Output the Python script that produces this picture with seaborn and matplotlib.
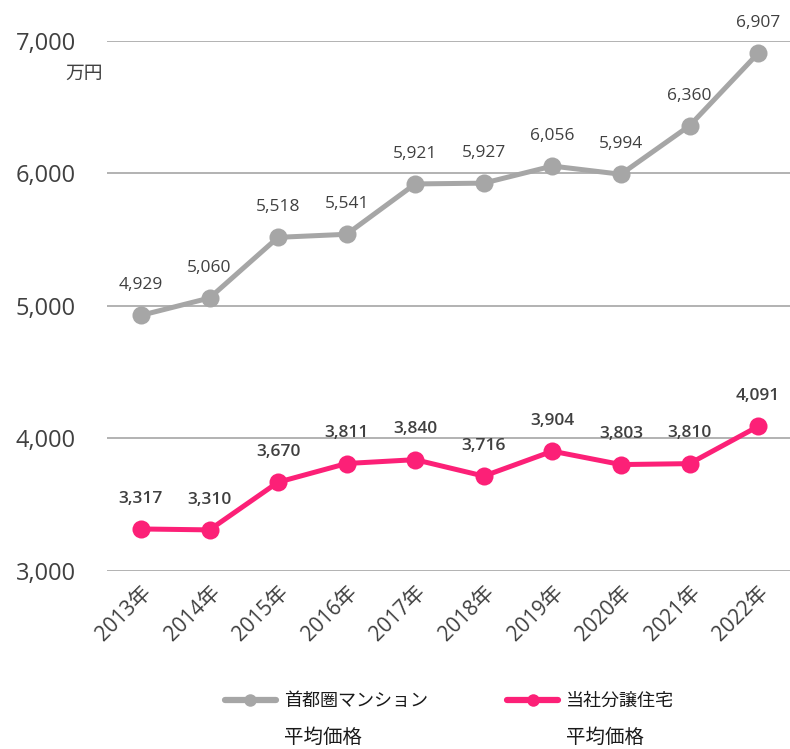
import matplotlib
matplotlib.use('Agg')
import matplotlib.pyplot as plt
import seaborn as sns
import pandas as pd

years = ['2013年', '2014年', '2015年', '2016年', '2017年', '2018年', '2019年', '2020年', '2021年', '2022年']
shutoken = [4929, 5060, 5518, 5541, 5921, 5927, 6056, 5994, 6360, 6907]
tousha = [3317, 3310, 3670, 3811, 3840, 3716, 3904, 3803, 3810, 4091]
yticks = [3000, 4000, 5000, 6000, 7000]
legend_line1 = ['首都圏マンション', '当社分譲住宅']
legend_line2 = ['平均価格', '平均価格']

gray = '#A6A6A6'
pink = '#FC2077'
text_col = '#404040'

sns.set_theme(style='white')
plt.rcParams['font.family'] = ['Open Sans', 'Noto Sans CJK JP', 'DejaVu Sans']

df = pd.DataFrame({'year': years, 'shutoken': shutoken, 'tousha': tousha})

fig = plt.figure(figsize=(7.9, 7.49), dpi=100)
ax = fig.add_axes([0.135, 0.2377, 0.868, 0.7076])

sns.lineplot(data=df, x='year', y='shutoken', ax=ax, color=gray, linewidth=3.6,
             marker='o', markersize=13, markeredgewidth=0, sort=False,
             label=legend_line1[0])
sns.lineplot(data=df, x='year', y='tousha', ax=ax, color=pink, linewidth=3.6,
             marker='o', markersize=13, markeredgewidth=0, sort=False,
             label=legend_line1[1])

for i, v in enumerate(shutoken):
    ax.annotate(f'{v:,}', (i, v), xytext=(0, 16), textcoords='offset points',
                ha='center', va='bottom', fontsize=12.5, color=text_col, annotation_clip=False)
for i, v in enumerate(tousha):
    ax.annotate(f'{v:,}', (i, v), xytext=(0, 16), textcoords='offset points',
                ha='center', va='bottom', fontsize=12.5, color=text_col, fontweight='semibold',
                annotation_clip=False)

ax.set_xlim(-0.5, len(years) - 0.5)
ax.set_ylim(3000, 7000)
ax.set_yticks(yticks)
ax.set_yticklabels([f'{t:,}' for t in yticks], fontsize=17, color=text_col)
ax.yaxis.grid(True, color='#A6A6A6', linewidth=1.2)
ax.xaxis.grid(False)
ax.set_axisbelow(True)
for s in ax.spines.values():
    s.set_visible(False)
ax.tick_params(axis='y', length=0, pad=22)
ax.tick_params(axis='x', length=0, pad=8)
plt.setp(ax.get_xticklabels(), rotation=45, ha='right', rotation_mode='anchor',
         fontsize=15, color=text_col)
ax.set_xlabel('')
ax.set_ylabel('')

fig.text(0.083, 0.902, '万円', fontsize=13.5, color=text_col, ha='left', va='center')

leg = ax.legend(loc='upper center', bbox_to_anchor=(0.5, -0.198), ncol=2, frameon=False,
                fontsize=13, handlelength=2.8, columnspacing=4.4, handletextpad=0.45)
for h in leg.legend_handles:
    h.set_markersize(9)
    h.set_linewidth(4.5)
for t in leg.get_texts():
    t.set_color('#1a1a1a')

fig.canvas.draw()
renderer = fig.canvas.get_renderer()
inv = fig.transFigure.inverted()
for t, line2 in zip(leg.get_texts(), legend_line2):
    bb = t.get_window_extent(renderer)
    x0, y0 = inv.transform((bb.x0, bb.y0))
    fig.text(x0, y0 - 0.025, line2, fontsize=14, color='#1a1a1a', ha='left', va='top')

fig.savefig('out.png', dpi=100)
